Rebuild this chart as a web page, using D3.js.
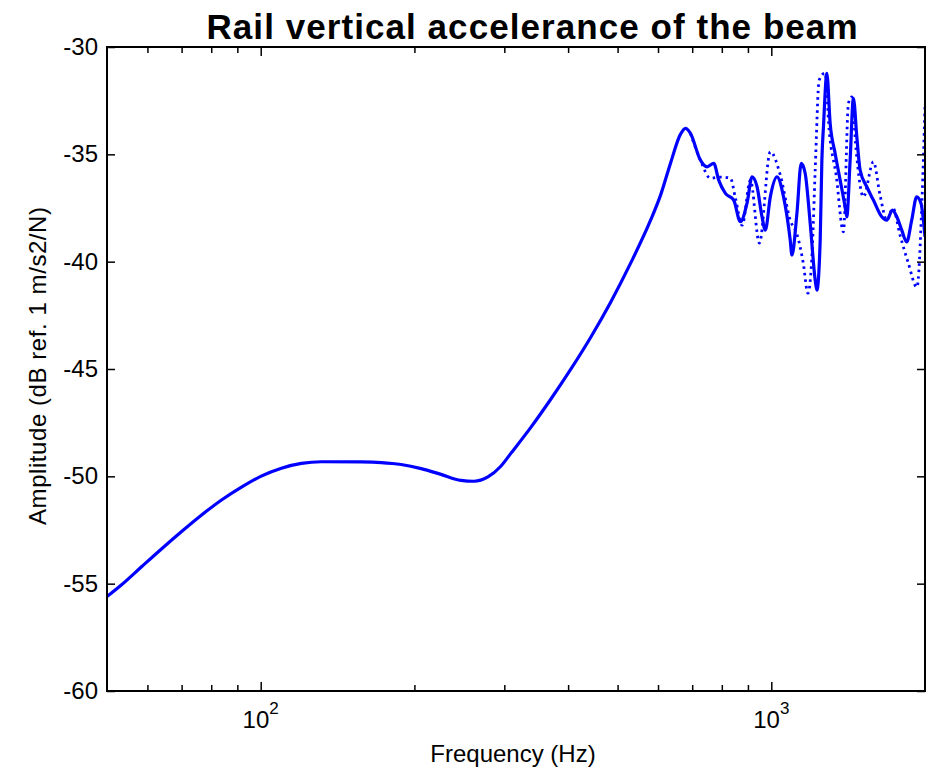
<!DOCTYPE html>
<html>
<head>
<meta charset="utf-8">
<script src="https://cdn.jsdelivr.net/npm/d3@7"></script>
<style>
    body { margin: 0; background: #fff; }
    text { font-family: "Liberation Sans", Arial, sans-serif; fill: #000; }
</style>
</head>
<body>
<div id="chart"></div>
<script>
// measured response, solid line
var freq = [50, 53.4, 58.5, 64, 70, 76.6, 83.8, 91.7, 100, 109.8, 120.1, 131.4, 157.3, 172.2, 188.4, 206.2, 225.5, 246.7, 261.6, 278.6,
    295.3, 309, 338.1, 369.9, 404.9, 443, 484.6, 530.3, 580.2, 606.9, 634.8, 664.1, 679.1, 694.5, 726.4, 748.6, 771.4, 788.9, 813.1, 844.1,
    869.9, 896.5, 917, 937.8, 959, 973.4, 995.6, 1025.9, 1056.8, 1089.2, 1097.5, 1122.5, 1144.4, 1165.2, 1191.8, 1218.9, 1228.2, 1246.7, 1256.2, 1265.2,
    1284.8, 1304, 1333.7, 1364.1, 1395, 1405.7, 1426.9, 1448.1, 1470.6, 1492.5, 1538.2, 1584.7, 1645.7, 1683.2, 1726.4, 1761, 1800.9, 1841.9, 1883.6, 1926.4,
    1964.5, 2000];
var amp = [-55.6, -55.05, -54.2, -53.37, -52.57, -51.8, -51.1, -50.5, -50.0, -49.62, -49.4, -49.32, -49.33, -49.36, -49.45, -49.64, -49.91, -50.19, -50.23, -50.03,
    -49.53, -48.93, -47.72, -46.41, -45.01, -43.52, -41.89, -40.07, -38.07, -36.9, -35.41, -34.06, -33.79, -34.02, -35.27, -35.58, -35.42, -36.2, -36.82, -37.13,
    -38.14, -37.27, -36.05, -36.51, -37.91, -38.53, -36.98, -36.05, -36.98, -39, -39.7, -37.75, -35.42, -35.89, -38.21, -40.86, -41.33, -39, -35.27, -33.72,
    -31.23, -33.56, -34.96, -36.2, -37.45, -37.91, -35.27, -32.39, -34.18, -35.73, -36.51, -37.13, -37.91, -38.07, -37.6, -37.91, -38.53, -39.08, -38.07, -36.98,
    -37.29, -38.84];

// second response, dotted line (same as solid below ~700 Hz)
var dotFreq = [694.5, 726.4, 760, 795.1, 831.6, 850.6, 876.8, 910.1, 947.6, 995.6, 1041.5, 1089.2, 1124, 1155.1, 1179.6, 1202.7, 1218.9, 1241,
    1274.9, 1298, 1339.8, 1384.4, 1416.1, 1437.8, 1465.9, 1515, 1584.7, 1633.1, 1683.2, 1731.5, 1787, 1852.5, 1929, 1973, 2000];
var dotAmp = [-34.02, -35.27, -36.11, -36.06, -36.11, -37.04, -38.3, -36.2, -39.14, -34.88, -35.97, -38.07, -38.76, -40.07, -41.47, -39.46, -35.73, -31.54,
    -31.21, -33.87, -35.97, -38.61, -32.62, -32.32, -34.8, -36.98, -35.35, -36.9, -38.07, -37.51, -38.76, -40.02, -41.19, -37.13, -32.78];

var yTicks = [-60, -55, -50, -45, -40, -35, -30];
var xMajor = [100, 1000];
var xMajorExp = ["2", "3"];
var xMinor = [60, 70, 80, 90, 200, 300, 400, 500, 600, 700, 800, 900];

var W = 933, H = 768;
var pL = 107, pR = 925, pT = 47, pB = 691;

var svg = d3.select('#chart').append('svg').attr('width', W).attr('height', H);

var x = d3.scaleLog().domain([50, 2000]).range([pL, pR]);
var y = d3.scaleLinear().domain([-60, -30]).range([pB, pT]);

svg.append('clipPath').attr('id', 'plotclip')
    .append('rect').attr('x', pL).attr('y', pT).attr('width', pR - pL).attr('height', pB - pT);

var line = d3.line()
    .x(function(d) { return x(d[0]); })
    .y(function(d) { return y(d[1]); })
    .curve(d3.curveMonotoneX);

var gplot = svg.append('g').attr('clip-path', 'url(#plotclip)');

gplot.append('path')
    .datum(d3.zip(dotFreq, dotAmp))
    .attr('fill', 'none')
    .attr('stroke', '#0000ff')
    .attr('stroke-width', 2.8)
    .attr('stroke-dasharray', '2.5,4')
    .attr('d', line);

gplot.append('path')
    .datum(d3.zip(freq, amp))
    .attr('fill', 'none')
    .attr('stroke', '#0000ff')
    .attr('stroke-width', 3.2)
    .attr('stroke-linejoin', 'round')
    .attr('d', line);

// ticks on all four sides, pointing inward
function tickStyle(g) {
    g.select('.domain').remove();
    g.selectAll('.tick line').attr('stroke', '#000').attr('stroke-width', 1.5);
    g.selectAll('.tick text').remove();
}
svg.append('g').attr('transform', 'translate(0,' + pB + ')')
    .call(d3.axisBottom(x).tickValues(xMinor).tickSize(-6)).call(tickStyle);
svg.append('g').attr('transform', 'translate(0,' + pB + ')')
    .call(d3.axisBottom(x).tickValues(xMajor).tickSize(-9)).call(tickStyle);
svg.append('g').attr('transform', 'translate(0,' + pT + ')')
    .call(d3.axisTop(x).tickValues(xMinor).tickSize(-6)).call(tickStyle);
svg.append('g').attr('transform', 'translate(0,' + pT + ')')
    .call(d3.axisTop(x).tickValues(xMajor).tickSize(-9)).call(tickStyle);
svg.append('g').attr('transform', 'translate(' + pL + ',0)')
    .call(d3.axisLeft(y).tickValues(yTicks).tickSize(-8)).call(tickStyle);
svg.append('g').attr('transform', 'translate(' + pR + ',0)')
    .call(d3.axisRight(y).tickValues(yTicks).tickSize(-8)).call(tickStyle);

svg.append('rect')
    .attr('x', pL).attr('y', pT).attr('width', pR - pL).attr('height', pB - pT)
    .attr('fill', 'none').attr('stroke', '#000').attr('stroke-width', 2);

// tick labels
svg.selectAll('.ylab').data(yTicks).enter().append('text')
    .attr('x', pL - 9).attr('y', function(d) { return y(d) + 8; })
    .attr('text-anchor', 'end').attr('font-size', 24)
    .text(function(d) { return d; });

xMajor.forEach(function(v, i) {
    var t = svg.append('text')
        .attr('x', x(v)).attr('y', 728)
        .attr('text-anchor', 'middle').attr('font-size', 24);
    t.append('tspan').text('10');
    t.append('tspan').attr('dy', -14).attr('font-size', 17).text(xMajorExp[i]);
});

svg.append('text')
    .attr('x', 513).attr('y', 762)
    .attr('text-anchor', 'middle').attr('font-size', 24)
    .text('Frequency (Hz)');

svg.append('text')
    .attr('transform', 'translate(46,366) rotate(-90)')
    .attr('text-anchor', 'middle').attr('font-size', 24)
    .attr('textLength', 318).attr('lengthAdjust', 'spacing')
    .text('Amplitude (dB ref. 1 m/s2/N)');

svg.append('text')
    .attr('x', 532).attr('y', 38.5)
    .attr('text-anchor', 'middle').attr('font-size', 35).attr('font-weight', 'bold')
    .attr('textLength', 651).attr('lengthAdjust', 'spacing')
    .text('Rail vertical accelerance of the beam');
</script>
</body>
</html>
